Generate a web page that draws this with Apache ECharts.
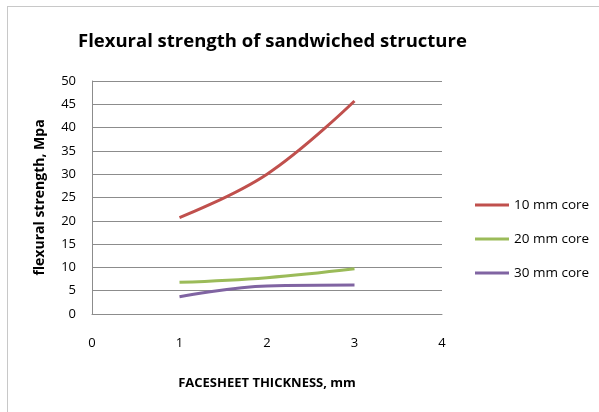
<!DOCTYPE html>
<html>
<head>
<meta charset="utf-8">
<script src="https://cdn.jsdelivr.net/npm/echarts@6/dist/echarts.min.js"></script>
<style>
  html, body { margin: 0; padding: 0; background: #fff; }
  #frame { position: absolute; left: 7px; top: 6px; width: 600px; height: 410px; border: 1px solid #c8c8c8; }
  #main { position: absolute; left: 0; top: 0; width: 599px; height: 412px; }
</style>
</head>
<body>
<div id="frame"></div>
<div id="main"></div>
<script>
// Толщина обшивки, мм
const thickness = [1, 2, 3];
const core10 = [20.7, 30, 45.7];
const core20 = [6.8, 7.8, 9.7];
const core30 = [3.7, 6.0, 6.2];
const seriesNames = ["10 mm core", "20 mm core", "30 mm core"];
const seriesColors = ["#C0504D", "#9BBB59", "#8064A2"];

const toPairs = (ys) => thickness.map((x, i) => [x, ys[i]]);

const chart = echarts.init(document.getElementById("main"), null, { renderer: "canvas" });

chart.setOption({
  animation: false,
  textStyle: { fontFamily: "Open Sans" },
  title: {
    text: "Flexural strength of sandwiched structure",
    left: 73,
    top: 27,
    textStyle: { fontSize: 18.5, fontWeight: "bold", color: "#000", fontFamily: "Open Sans" },
  },
  legend: {
    orient: "vertical",
    left: 470,
    top: 191,
    itemGap: 16,
    itemWidth: 34,
    itemHeight: 3,
    icon: "rect",
    textStyle: { fontSize: 13.5, lineHeight: 18, color: "#000" },
    data: seriesNames,
  },
  grid: { left: 92, right: 157, top: 81, bottom: 98 },
  xAxis: {
    type: "value",
    min: 0,
    max: 4,
    interval: 1,
    name: "FACESHEET THICKNESS, mm",
    nameLocation: "middle",
    nameGap: 63,
    nameTextStyle: { fontSize: 13, fontWeight: "bold", color: "#000" },
    axisLine: { show: true, lineStyle: { color: "#8c8c8c" } },
    axisTick: { show: false },
    splitLine: { show: false },
    axisLabel: { margin: 23, fontSize: 13, color: "#000" },
  },
  yAxis: {
    type: "value",
    min: 0,
    max: 50,
    interval: 5,
    name: "flexural strength, Mpa",
    nameLocation: "middle",
    nameGap: 45,
    nameTextStyle: { fontSize: 14, fontWeight: "bold", color: "#000" },
    axisLine: { show: true, lineStyle: { color: "#8c8c8c" } },
    axisTick: { show: false },
    splitLine: { show: true, lineStyle: { color: "#8c8c8c" } },
    axisLabel: { margin: 16, fontSize: 13, color: "#000" },
  },
  series: [core10, core20, core30].map((ys, i) => ({
    name: seriesNames[i],
    type: "line",
    smooth: 0.4,
    symbol: "none",
    data: toPairs(ys),
    lineStyle: { width: 3, color: seriesColors[i] },
    itemStyle: { color: seriesColors[i] },
  })),
});
</script>
</body>
</html>
